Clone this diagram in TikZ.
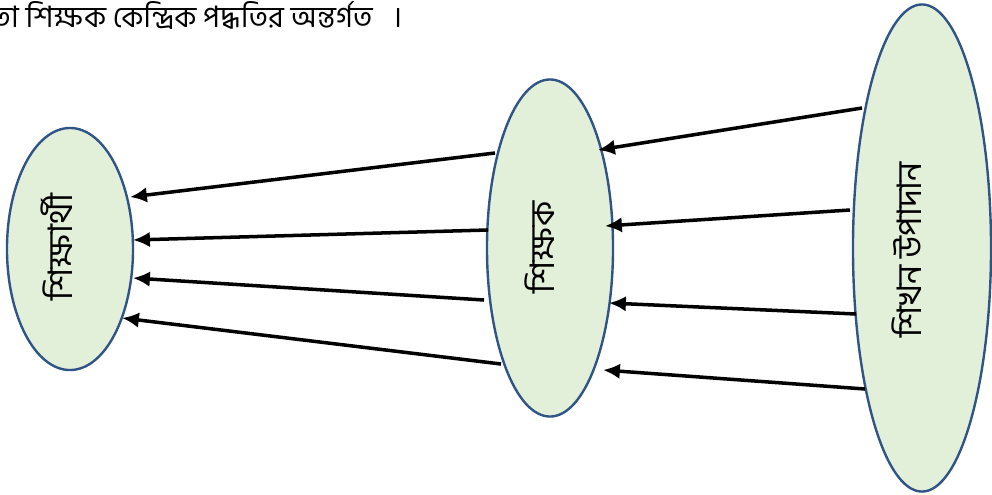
\documentclass[tikz,border=0pt]{standalone}
\usepackage{fontspec}
\newfontfamily\bn[Script=Bengali]{Hind Siliguri}
\usetikzlibrary{arrows.meta,shapes.geometric}
\definecolor{ellfill}{HTML}{E2EFD9}
\definecolor{elldraw}{HTML}{2F5485}
\begin{document}
\begin{tikzpicture}[x=0.025cm,y=-0.025cm,
  oval/.style={ellipse,draw=elldraw,fill=ellfill,line width=1.7pt,inner sep=0pt},
  lbl/.style={rotate=90,font=\bn\fontsize{24}{28}\selectfont,inner sep=0pt},
  arr/.style={line width=2.5pt,-{Latex[length=12pt,width=11pt]}}]
\useasboundingbox (0,0) rectangle (992,494);
\node[anchor=west,font=\bn\fontsize{21}{25}\selectfont,inner sep=0pt] (title) at (-9,15) {তা শিক্ষক কেন্দ্রিক পদ্ধতির অন্তর্গত~~ ।};
\node[oval,minimum width=3.15cm,minimum height=6.05cm] (st) at (70,249) {};
\node[oval,minimum width=3.15cm,minimum height=8.425cm] (te) at (550,248) {};
\node[oval,minimum width=3.45cm,minimum height=12.175cm] (mat) at (922,248) {};
\node[lbl] (stl) at (57,247) {শিক্ষার্থী};
\node[lbl] (tel) at (540,247) {শিক্ষক};
\node[lbl] (matl) at (907,250) {শিখন উপাদান};
% right to middle
\coordinate (a1) at (862,108); \coordinate (b1) at (598,150);
\coordinate (a2) at (850,210); \coordinate (b2) at (605,226);
\coordinate (a3) at (856,314); \coordinate (b3) at (609,303);
\coordinate (a4) at (865,389); \coordinate (b4) at (603,370);
% middle to left
\coordinate (c1) at (495,153); \coordinate (d1) at (130,197);
\coordinate (c2) at (488,230); \coordinate (d2) at (133,240);
\coordinate (c3) at (484,300); \coordinate (d3) at (133,278);
\coordinate (c4) at (501,364); \coordinate (d4) at (122,318);
\foreach \i in {1,...,4}{
  \draw[arr] (a\i) -- (b\i);
  \draw[arr] (c\i) -- (d\i);
}
\end{tikzpicture}
\end{document}
